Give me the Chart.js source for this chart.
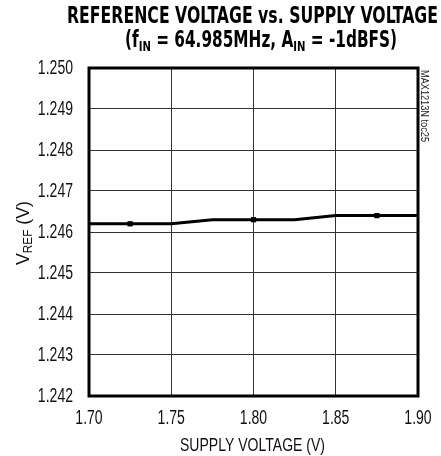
<!DOCTYPE html>
<html lang="en">
<head>
    <meta charset="UTF-8">
    <title>Reference Voltage vs. Supply Voltage</title>
    <script src="https://cdn.jsdelivr.net/npm/chart.js"></script>
    <style>
        html, body { margin: 0; padding: 0; background: #fff; }
        canvas { display: block; }
    </style>
</head>
<body>
    <canvas id="vref-chart" width="441" height="456"></canvas>

    <script>
        // values
        const supplyVoltage = [1.70, 1.725, 1.75, 1.775, 1.80, 1.825, 1.85, 1.875, 1.90];
        const vref = [1.2462, 1.2462, 1.2462, 1.2463, 1.2463, 1.2463, 1.2464, 1.2464, 1.2464];
        const xTicks = [1.70, 1.75, 1.80, 1.85, 1.90];
        const yTicks = [1.242, 1.243, 1.244, 1.245, 1.246, 1.247, 1.248, 1.249, 1.250];

        const sans = '"Liberation Sans", Arial, sans-serif';
        const boldCond = '"DejaVu Sans Condensed", "Liberation Sans", sans-serif';
        const narrowFactor = 0.72; // fake a narrow face by squeezing

        // draws text pieces left to right (some as subscripts), squeezed to a width
        function drawRuns(ctx, runs, x, y, size, family, weight, width) {
            let natural = 0;
            runs.forEach(r => {
                ctx.font = weight + ' ' + (r.sub ? size * 0.66 : size) + 'px ' + family;
                r.w = ctx.measureText(r.t).width;
                natural += r.w;
            });
            const k = width / natural;
            let cx = x - width / 2;
            runs.forEach(r => {
                ctx.font = weight + ' ' + (r.sub ? size * 0.66 : size) + 'px ' + family;
                ctx.textAlign = 'left';
                ctx.textBaseline = 'alphabetic';
                ctx.fillText(r.t, cx, y + (r.sub ? size * 0.18 : 0), r.w * k);
                cx += r.w * k;
            });
        }

        function narrowText(ctx, text, x, y, size, align) {
            ctx.font = size + 'px ' + sans;
            ctx.textAlign = align;
            ctx.textBaseline = 'middle';
            ctx.fillText(text, x, y, ctx.measureText(text).width * narrowFactor);
        }

        const decorations = {
            id: 'decorations',
            afterDraw(chart) {
                const ctx = chart.ctx;
                const a = chart.chartArea;
                const xs = chart.scales.x;
                const ys = chart.scales.y;
                ctx.save();
                ctx.fillStyle = '#111';

                // frame
                ctx.strokeStyle = '#000';
                ctx.lineWidth = 3;
                ctx.strokeRect(a.left, a.top, a.right - a.left, a.bottom - a.top);

                // tick labels, placed by the scales
                xTicks.forEach(v => narrowText(ctx, v.toFixed(2), xs.getPixelForValue(v), a.bottom + 23, 19.5, 'center'));
                yTicks.forEach(v => narrowText(ctx, v.toFixed(3), a.left - 16, ys.getPixelForValue(v) + 1, 19.5, 'right'));

                // axis titles
                drawRuns(ctx, [{ t: 'SUPPLY VOLTAGE (V)' }], 252.5, 451, 18, sans, 'normal', 145);
                ctx.save();
                ctx.translate(29, 233);
                ctx.rotate(-Math.PI / 2);
                drawRuns(ctx, [{ t: 'V' }, { t: 'REF', sub: true }, { t: ' (V)' }],
                    0, 0, 19, sans, 'normal', 64);
                ctx.restore();

                // title
                ctx.fillStyle = '#000';
                drawRuns(ctx, [{ t: 'REFERENCE VOLTAGE vs. SUPPLY VOLTAGE' }],
                    252.5, 23, 22.5, boldCond, 'bold', 371);
                drawRuns(ctx, [
                    { t: '(f' }, { t: 'IN', sub: true }, { t: ' = 64.985MHz, A' },
                    { t: 'IN', sub: true }, { t: ' = -1dBFS)' }
                ], 261, 46.5, 22.5, boldCond, 'bold', 272);

                // side note
                ctx.save();
                ctx.translate(424, 106);
                ctx.rotate(Math.PI / 2);
                ctx.fillStyle = '#222';
                drawRuns(ctx, [{ t: 'MAX1213N toc25' }], 0, 3.5, 10, sans, 'normal', 72);
                ctx.restore();

                ctx.restore();
            }
        };

        new Chart(document.getElementById('vref-chart').getContext('2d'), {
            type: 'line',
            data: {
                datasets: [{
                    data: supplyVoltage.map((v, i) => ({ x: v, y: vref[i] })),
                    borderColor: '#000',
                    backgroundColor: '#000',
                    borderWidth: 3,
                    pointStyle: 'rect',
                    pointRadius: c => (c.dataIndex % 3 === 1 ? 1.6 : 0),
                    tension: 0,
                    fill: false
                }]
            },
            options: {
                responsive: false,
                animation: false,
                devicePixelRatio: 1,
                layout: { padding: { left: 0, top: 68, right: 23, bottom: 0 } },
                plugins: {
                    legend: { display: false },
                    tooltip: { enabled: false }
                },
                scales: {
                    x: {
                        type: 'linear',
                        min: 1.70,
                        max: 1.90,
                        afterFit: s => { s.height = 60; },
                        afterBuildTicks: s => { s.ticks = xTicks.map(v => ({ value: v })); },
                        ticks: { display: false },
                        grid: { color: '#333', lineWidth: 1, drawTicks: false },
                        border: { display: false }
                    },
                    y: {
                        min: 1.242,
                        max: 1.250,
                        afterFit: s => { s.width = 89; },
                        afterBuildTicks: s => { s.ticks = yTicks.map(v => ({ value: v })); },
                        ticks: { display: false },
                        grid: { color: '#333', lineWidth: 1, drawTicks: false },
                        border: { display: false }
                    }
                }
            },
            plugins: [decorations]
        });
    </script>
</body>
</html>
